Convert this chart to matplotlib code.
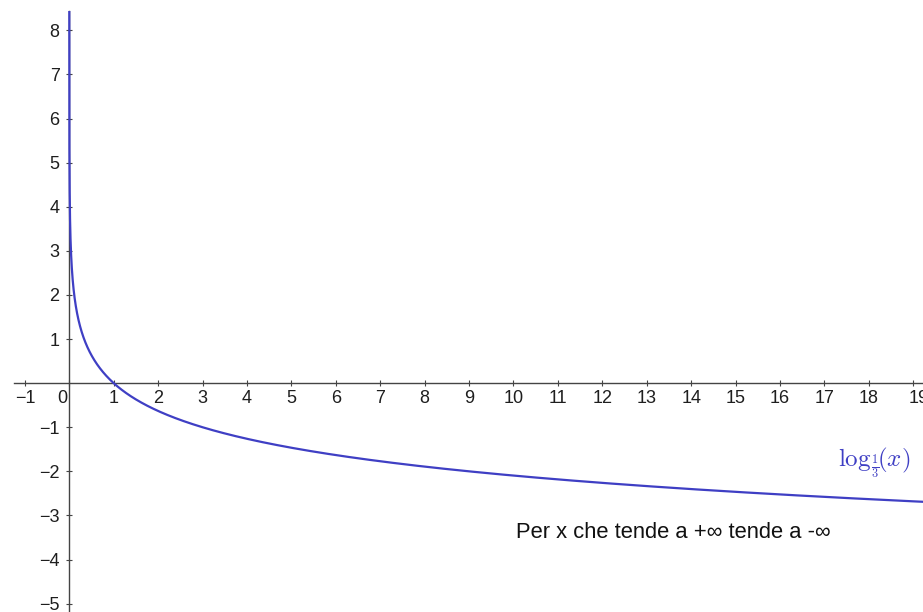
import numpy as np
import matplotlib
matplotlib.use("Agg")
import matplotlib.pyplot as plt
from matplotlib.transforms import ScaledTranslation

# Logarithm base shown in the label
base = 1 / 3
x_ticks = list(range(-1, 20))
y_ticks = [-5, -4, -3, -2, -1, 1, 2, 3, 4, 5, 6, 7, 8]
x_range = (-1.245, 19.22)
y_range = (-5.19, 8.44)
curve_label = r"$\log_{\frac{1}{3}}\!\!(x)$"
note = "Per x che tende a +∞ tende a -∞"

plt.rcParams["font.family"] = ["Liberation Sans", "DejaVu Sans"]
plt.rcParams["mathtext.fontset"] = "cm"

fig = plt.figure(figsize=(9.23, 6.12), dpi=100)
ax = fig.add_axes([14 / 923, 0, 1 - 14 / 923, (612 - 11) / 612])
ax.set_xlim(*x_range)
ax.set_ylim(*y_range)

# Curve y = log_base(x), starting where it leaves the top of the view
x_start = base ** (y_range[1] + 0.05)
xs = np.geomspace(x_start, x_range[1], 4000)
ys = np.log(xs) / np.log(base)
curve_color = "#3f3fc4"
ax.plot(xs, ys, color=curve_color, lw=1.6, zorder=3)

# Axes through the origin
for side in ("top", "right"):
    ax.spines[side].set_visible(False)
ax.spines["left"].set_position("zero")
ax.spines["bottom"].set_position("zero")
for side in ("left", "bottom"):
    ax.spines[side].set_color("#444444")
    ax.spines[side].set_linewidth(1.0)

ax.set_xticks(x_ticks)
ax.set_xticklabels([str(v).replace("-", "\u2212") for v in x_ticks])
ax.set_yticks(y_ticks)
ax.set_yticklabels([str(v).replace("-", "\u2212") for v in y_ticks])
ax.tick_params(axis="both", direction="inout", length=4, width=0.8,
               color="#444444", labelsize=13, labelcolor="#1e1e1e")
ax.tick_params(axis="x", pad=3)
ax.tick_params(axis="y", pad=5)

# Origin label sits left of the vertical axis; the last label runs off the edge
for lbl, v in zip(ax.get_xticklabels(), x_ticks):
    if v == 0:
        lbl.set_transform(lbl.get_transform() + ScaledTranslation(-7 / 100, 0, fig.dpi_scale_trans))
    elif v == x_ticks[-1]:
        lbl.set_transform(lbl.get_transform() + ScaledTranslation(5 / 100, 0, fig.dpi_scale_trans))

ax.text(17.3, -1.8, curve_label, color=curve_color, fontsize=18,
        ha="left", va="center")
ax.text(10.05, -3.39, note, color="#111111", fontsize=15.8,
        ha="left", va="center")

fig.savefig("out.png", dpi=100)
